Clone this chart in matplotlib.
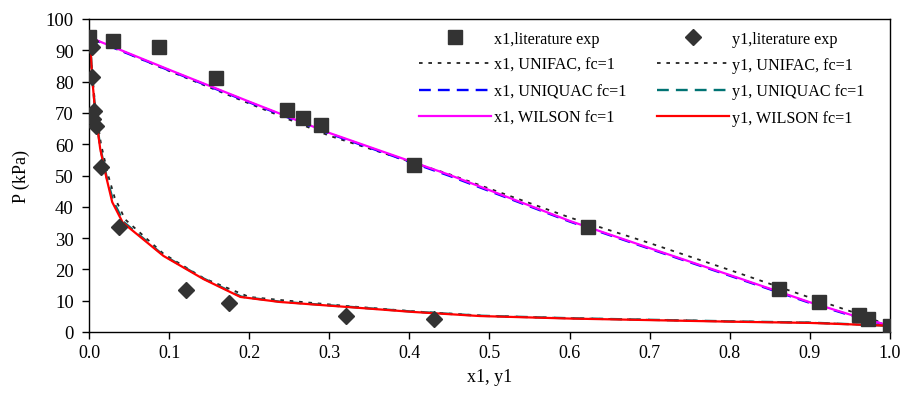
import numpy as np
import matplotlib.pyplot as plt

plt.rcParams['font.family'] = ['Liberation Serif', 'DejaVu Serif']

# Experimental data (literature)
P_exp = [94.2, 93.0, 91.0, 81.0, 71.0, 68.4, 66.0, 53.2, 33.5, 13.6, 9.5, 5.3, 4.3, 1.9]
x1_exp = [0.0, 0.030, 0.087, 0.159, 0.247, 0.267, 0.290, 0.406, 0.623, 0.862, 0.911, 0.961, 0.973, 1.0]
P_exp_y = [93.0, 91.0, 81.5, 70.6, 68.0, 65.8, 52.7, 33.4, 13.4, 9.4, 5.1, 4.2]
y1_exp = [0.001, 0.004, 0.004, 0.006, 0.005, 0.009, 0.015, 0.037, 0.121, 0.175, 0.321, 0.431]

# Bubble-point curves, P vs x1
x_bub = [0.0, 0.1, 0.2, 0.3, 0.45, 0.6, 0.7, 0.8, 0.9, 0.96, 1.0]
P_bub_unifac = [94.2, 83.4, 73.0, 62.7, 50.4, 36.6, 28.4, 19.8, 11.0, 5.8, 2.0]
P_bub_uniquac = [94.0, 83.6, 73.4, 63.4, 49.9, 35.3, 26.6, 18.0, 9.3, 4.6, 2.0]
P_bub_wilson = [94.2, 83.8, 73.6, 63.6, 50.2, 35.5, 26.8, 18.2, 9.5, 4.8, 2.0]

# Dew-point curves, P vs y1
y_dew_unifac = [0.0, 0.002, 0.004, 0.008, 0.015, 0.024, 0.032, 0.045, 0.093, 0.143, 0.20, 0.24,
                0.322, 0.405, 0.5, 0.6, 0.7, 0.8, 0.9, 1.0]
P_dew_unifac = [94.2, 90.0, 82.0, 72.0, 60.0, 50.0, 43.0, 36.0, 25.0, 17.2, 11.2, 10.2,
                8.3, 6.6, 5.1, 4.4, 3.9, 3.4, 3.0, 2.0]
y_dew_uniquac = [0.0, 0.002, 0.004, 0.0075, 0.014, 0.022, 0.030, 0.043, 0.093, 0.143, 0.19, 0.238,
                 0.322, 0.405, 0.488, 0.6, 0.7, 0.8, 0.9, 1.0]
P_dew_uniquac = [94.0, 90.2, 81.5, 71.5, 59.0, 49.5, 42.0, 35.2, 24.5, 17.1, 11.3, 9.7,
                 8.1, 6.5, 5.2, 4.4, 3.9, 3.4, 3.0, 2.0]
y_dew_wilson = [0.0, 0.002, 0.004, 0.0075, 0.014, 0.022, 0.029, 0.042, 0.093, 0.143, 0.189, 0.238,
                0.322, 0.405, 0.488, 0.6, 0.7, 0.8, 0.9, 1.0]
P_dew_wilson = [94.2, 90.0, 81.0, 71.0, 58.5, 49.0, 41.5, 35.0, 24.3, 16.9, 11.2, 9.6,
                8.0, 6.4, 5.1, 4.3, 3.8, 3.3, 2.9, 2.0]

fig = plt.figure(figsize=(9.06, 4.02), dpi=100)
ax = fig.add_axes([89 / 906, 1 - 333 / 402, 801 / 906, 313 / 402])

mk = '#333333'
ax.plot(x1_exp, P_exp, 's', color=mk, markersize=10, label='x1,literature exp', zorder=5)
ax.plot(y1_exp, P_exp_y, 'D', color=mk, markersize=8.3, label='y1,literature exp', zorder=5)

dot = (0, (2, 3.2))
dash = (0, (5, 3))
ax.plot(x_bub, P_bub_unifac, color='#222222', lw=1.3, ls=dot, label='x1, UNIFAC, fc=1')
ax.plot(y_dew_unifac, P_dew_unifac, color='#222222', lw=1.3, ls=dot, label='y1, UNIFAC, fc=1')
ax.plot(x_bub, P_bub_uniquac, color='#0000ff', lw=1.7, ls=dash, label='x1, UNIQUAC fc=1')
ax.plot(y_dew_uniquac, P_dew_uniquac, color='#007373', lw=1.7, ls=dash, label='y1, UNIQUAC fc=1')
ax.plot(x_bub, P_bub_wilson, color='#ff00ff', lw=1.6, label='x1, WILSON fc=1')
ax.plot(y_dew_wilson, P_dew_wilson, color='#ff0000', lw=1.6, label='y1, WILSON fc=1')

ax.set_xlim(0, 1)
ax.set_ylim(0, 100)
ax.set_xticks(np.arange(0, 1.01, 0.1))
ax.set_yticks(range(0, 101, 10))
ax.set_xticklabels([f'{v:.1f}' for v in np.arange(0, 1.01, 0.1)])
ax.tick_params(direction='out', length=5, width=1, labelsize=13)
ax.tick_params(axis='x', pad=4)
ax.tick_params(axis='y', pad=6, labelsize=13.5)
for s in ax.spines.values():
    s.set_linewidth(1)

ax.set_xlabel('x1, y1', fontsize=13, labelpad=5)
ax.set_ylabel('P (kPa)', fontsize=13, labelpad=11)

# legend: column order follows the plotting order (x1 entries, then y1 entries)
h, l = ax.get_legend_handles_labels()
order = [0, 2, 4, 6, 1, 3, 5, 7]
ax.legend([h[i] for i in order], [l[i] for i in order], ncol=2, frameon=False,
          fontsize=11.6, handlelength=4.45, handletextpad=0.2, columnspacing=1.9,
          labelspacing=0.64, loc='upper left', bbox_to_anchor=(0.394, 1.009))

fig.savefig('out.png', dpi=100)
